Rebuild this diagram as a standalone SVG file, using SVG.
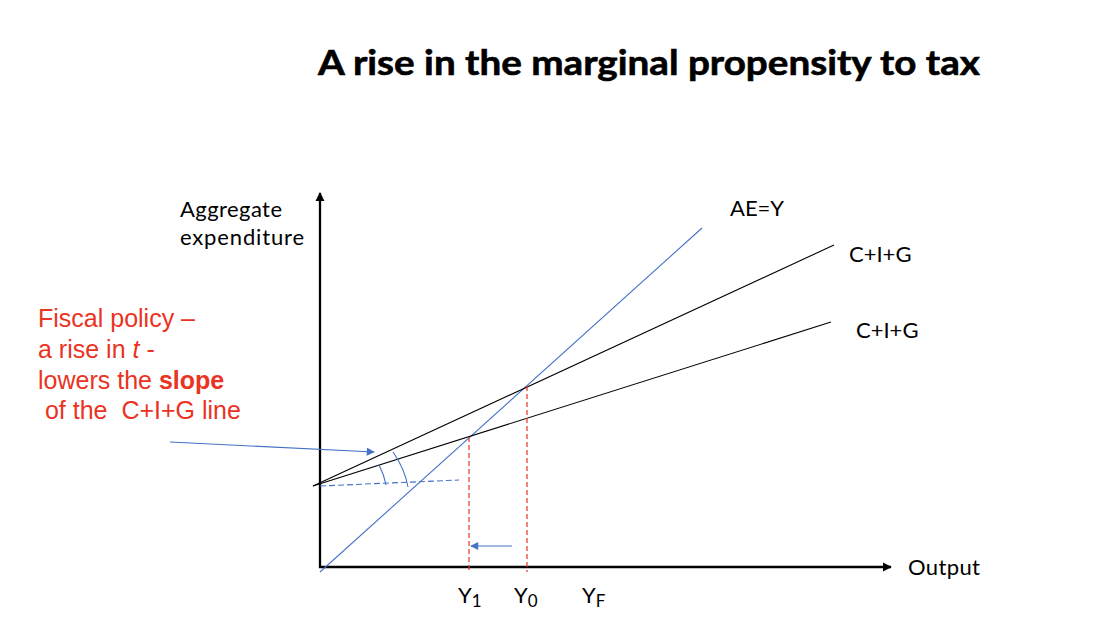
<svg xmlns="http://www.w3.org/2000/svg" width="1108" height="640" viewBox="0 0 1108 640">
<defs>
<marker id="axHead" viewBox="0 0 10 10" refX="9" refY="5" markerWidth="4" markerHeight="4" orient="auto" markerUnits="strokeWidth"><path d="M0,0 L10,5 L0,10 z" fill="#000"/></marker>
<marker id="blueHead" viewBox="0 0 10 10" refX="9" refY="5" markerWidth="9" markerHeight="8" orient="auto" markerUnits="userSpaceOnUse"><path d="M0,0 L10,5 L0,10 z" fill="#4472C4"/></marker>
<style>
.lbl{font-family:Lato,"Open Sans","Liberation Sans",sans-serif;font-size:22px;fill:#000}
.title{font-family:Lato,"Open Sans","Liberation Sans",sans-serif;font-size:34px;font-weight:bold;fill:#000;stroke:#000;stroke-width:0.6}
.red{font-family:"Liberation Sans",Arial,sans-serif;font-size:25px;fill:#EA3323}
.axis{stroke:#000;stroke-width:2.3;fill:none}
.blk{stroke:#000;stroke-width:1.1;fill:none}
.blue{stroke:#4472C4;stroke-width:1.1;fill:none}
.bdash{stroke:#4472C4;stroke-width:1.1;fill:none;stroke-dasharray:6 3}
.rdash{stroke:#EA3323;stroke-width:1.2;fill:none;stroke-dasharray:5 3}
</style>
</defs>
<rect width="1108" height="640" fill="#fff"/>
<g id="title"><text class="title" x="318" y="75" textLength="662" lengthAdjust="spacingAndGlyphs">A rise in the marginal propensity to tax</text></g>
<g id="axes">
<line class="axis" x1="320" y1="568" x2="320" y2="193" marker-end="url(#axHead)"/>
<line class="axis" x1="319" y1="567" x2="891" y2="567" marker-end="url(#axHead)"/>
<text class="lbl" x="180" y="217" textLength="102">Aggregate</text>
<text class="lbl" x="180" y="245" textLength="124">expenditure</text>
<text class="lbl" x="908" y="575" textLength="72">Output</text>
</g>
<g id="connectors">
<line id="ae" class="blue" x1="320" y1="572" x2="702" y2="228"/>
<line id="cig-upper" class="blk" x1="313" y1="486" x2="834" y2="245"/>
<line id="cig-lower" class="blk" x1="313" y1="486" x2="831" y2="322"/>
<line class="bdash" x1="320" y1="486" x2="459" y2="480"/>
<path class="blue" d="M379,465 A70,70 0 0 1 386,485"/>
<path class="blue" d="M393,452 A88,88 0 0 1 408,487"/>
<line class="rdash" x1="469" y1="437" x2="469" y2="572"/>
<line class="rdash" x1="527" y1="386" x2="527" y2="572"/>
<line class="blue" x1="170" y1="442" x2="374" y2="452" marker-end="url(#blueHead)"/>
<line class="blue" x1="512" y1="546" x2="471" y2="546" marker-end="url(#blueHead)"/>
</g>
<g id="line-labels">
<text class="lbl" x="730" y="216">AE=Y</text>
<text class="lbl" x="849" y="262">C+I+G</text>
<text class="lbl" x="856" y="338">C+I+G</text>
</g>
<g id="y-labels">
<text class="lbl" x="458" y="603">Y<tspan font-size="17" dy="4">1</tspan></text>
<text class="lbl" x="514" y="603">Y<tspan font-size="17" dy="4">0</tspan></text>
<text class="lbl" x="582" y="603">Y<tspan font-size="17" dy="4">F</tspan></text>
</g>
<g id="annotation">
<text class="red" x="38" y="327">Fiscal policy –</text>
<text class="red" x="38" y="358">a rise in <tspan font-style="italic">t</tspan> -</text>
<text class="red" x="38" y="389">lowers the <tspan font-weight="bold">slope</tspan></text>
<text class="red" x="38" y="419" xml:space="preserve"> of the  C+I+G line</text>
</g>
</svg>
